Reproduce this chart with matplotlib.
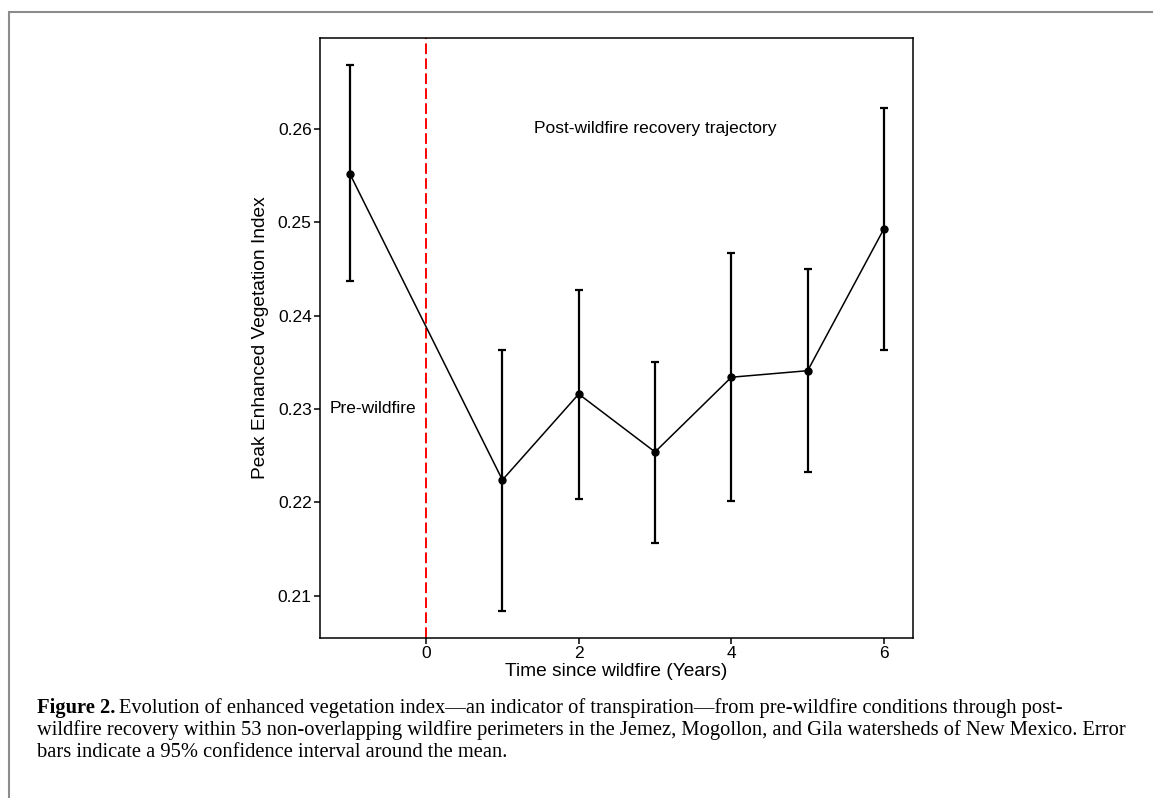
import numpy as np
import matplotlib.pyplot as plt
import matplotlib as mpl
from matplotlib.patches import Rectangle

# years since wildfire and peak EVI (mean, 95% CI bounds)
years = [-1, 1, 2, 3, 4, 5, 6]
evi_mean = [0.2552, 0.2224, 0.2316, 0.2254, 0.2334, 0.2341, 0.2493]
evi_upper = [0.2668, 0.2363, 0.2427, 0.2350, 0.2467, 0.2450, 0.2622]
evi_lower = [0.2437, 0.2084, 0.2204, 0.2156, 0.2201, 0.2232, 0.2363]

x_ticks = [0, 2, 4, 6]
y_ticks = [0.21, 0.22, 0.23, 0.24, 0.25, 0.26]

mpl.rcParams['font.family'] = ['Liberation Sans', 'DejaVu Sans']

fig = plt.figure(figsize=(11.53, 7.98), dpi=100)

# outer frame of the figure panel
fig.patches.append(Rectangle((9 / 1153, -0.1), 1.2, 1.1 - 12 / 798,
                             transform=fig.transFigure, fill=False,
                             edgecolor='#8c8c8c', linewidth=1.5))

ax = fig.add_axes([320 / 1153, 1 - 638 / 798, 593 / 1153, 600 / 798])

mean = np.array(evi_mean)
err = [mean - np.array(evi_lower), np.array(evi_upper) - mean]

ax.axvline(0, color='#ff0000', linewidth=1.4, dashes=(5.5, 2.2), zorder=1)
ax.plot(years, evi_mean, color='black', linewidth=1.1, zorder=3)
ax.errorbar(years, evi_mean, yerr=err, fmt='none', ecolor='black',
            elinewidth=1.6, capsize=2.6, capthick=1.6, zorder=2)
ax.plot(years, evi_mean, 'o', color='black', markersize=5, zorder=4)

ax.text(3, 0.26, 'Post-wildfire recovery trajectory', ha='center', va='center',
        fontsize=12.5)
ax.text(-0.69, 0.23, 'Pre-wildfire', ha='center', va='center', fontsize=12.5)

# ggplot-like limits (5% expansion)
lo, hi = min(evi_lower), max(evi_upper)
pad = (hi - lo) * 0.05
ax.set_ylim(lo - pad, hi + pad)
ax.set_xlim(-1.39, 6.38)

ax.set_xticks(x_ticks)
ax.set_xticklabels([str(t) for t in x_ticks])
ax.set_yticks(y_ticks)
ax.set_yticklabels(['%.2f' % t for t in y_ticks])
ax.tick_params(direction='out', length=4, width=1.1, labelsize=12.5,
               colors='black', pad=2)

for s in ax.spines.values():
    s.set_linewidth(1.1)
    s.set_color('black')

ax.set_xlabel('Time since wildfire (Years)', fontsize=13.8, labelpad=1)
ax.set_ylabel('Peak Enhanced Vegetation Index', fontsize=13.8, labelpad=6)

# caption
cap_x = 37 / 1153
cap_size = 14.8
cap_lines = [
    'Evolution of enhanced vegetation index\u2014an indicator of transpiration\u2014from pre-wildfire conditions through post-',
    'wildfire recovery within 53 non-overlapping wildfire perimeters in the Jemez, Mogollon, and Gila watersheds of New Mexico. Error',
    'bars indicate a 95% confidence interval around the mean.',
]
serif = ['Liberation Serif', 'DejaVu Serif']
t = fig.text(cap_x, 1 - 713 / 798, 'Figure 2.', fontsize=cap_size,
             fontweight='bold', family=serif, va='baseline')
fig.canvas.draw()
bb = t.get_window_extent()
fig.text(bb.x1 / 1153 + 4 / 1153, 1 - 713 / 798, cap_lines[0],
         fontsize=cap_size, family=serif, va='baseline')
fig.text(cap_x, 1 - 735 / 798, cap_lines[1], fontsize=cap_size, family=serif,
         va='baseline')
fig.text(cap_x, 1 - 757 / 798, cap_lines[2], fontsize=cap_size, family=serif,
         va='baseline')

plt.savefig('out.png', dpi=100)
plt.close()
